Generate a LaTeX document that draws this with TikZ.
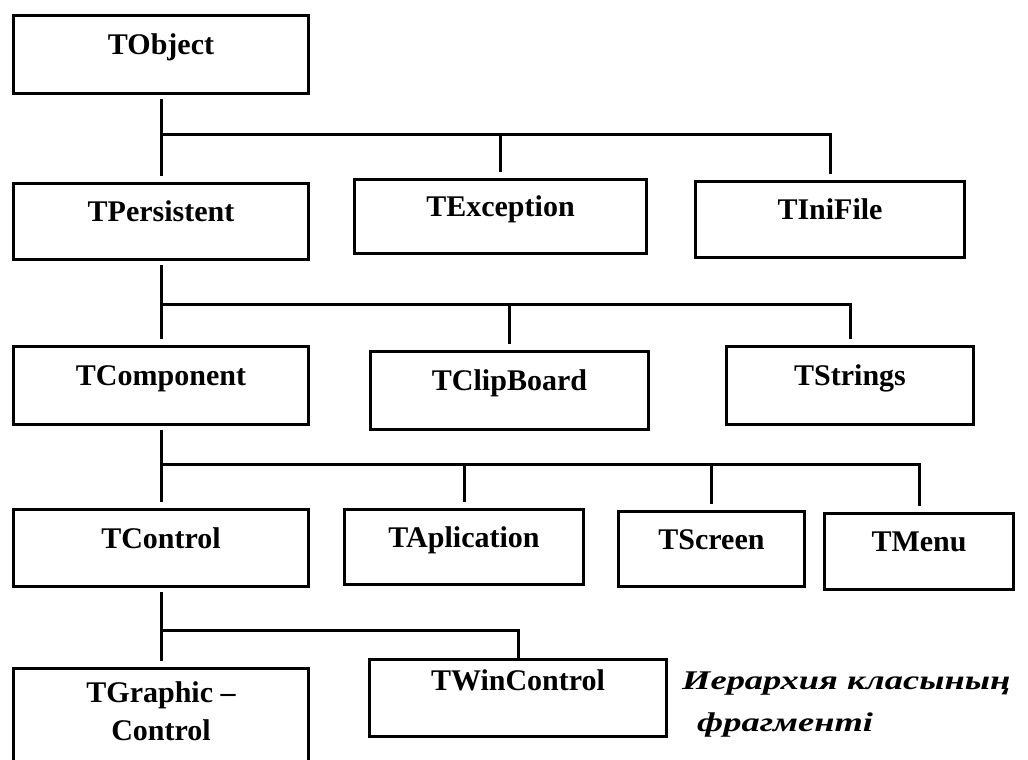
\documentclass[tikz,border=0pt]{standalone}
\usepackage{fontspec}
\setmainfont{Liberation Serif}
\newfontfamily\notefont[FakeStretch=1.35]{Liberation Serif}
\begin{document}
\begin{tikzpicture}[x=1pt,y=-1pt,
  box/.style={draw, line width=3pt, inner sep=0pt, anchor=north west,
    font=\fontsize{30}{38}\selectfont\bfseries,
    text height=22pt, text depth=22pt},
  trunk/.style={line width=3pt, shorten <=4pt, shorten >=6pt},
  drop/.style={line width=3pt, shorten >=6pt},
  note/.style={anchor=base west, inner sep=0pt,
    font=\notefont\fontsize{27}{32}\selectfont\bfseries\itshape}]
\useasboundingbox (0,0) rectangle (1028,760);
\clip (0,0) rectangle (1028,760);

% class boxes
\node[box, minimum width=295pt, minimum height=78pt] (obj)  at (12,14)   {TObject};
\node[box, minimum width=295pt, minimum height=76pt] (pers) at (12,182)  {TPersistent};
\node[box, minimum width=292pt, minimum height=74pt] (exc)  at (353,178) {TException};
\node[box, minimum width=269pt, minimum height=76pt] (ini)  at (694,180) {TIniFile};
\node[box, minimum width=295pt, minimum height=78pt] (comp) at (12,345)  {TComponent};
\node[box, minimum width=278pt, minimum height=78pt] (clip) at (369,350) {TClipBoard};
\node[box, minimum width=247pt, minimum height=78pt] (str)  at (725,345) {TStrings};
\node[box, minimum width=295pt, minimum height=77pt] (ctrl) at (12,508)  {TControl};
\node[box, minimum width=239pt, minimum height=75pt] (app)  at (343,508) {TAplication};
\node[box, minimum width=186pt, minimum height=75pt] (scr)  at (617,510) {TScreen};
\node[box, minimum width=189pt, minimum height=76pt] (menu) at (823,512) {TMenu};
\node[box, minimum width=295pt, minimum height=133pt, text height=20pt, text depth=85pt]
  (gfx) at (12,667) {\begin{tabular}[t]{@{}c@{}}TGraphic –\\Control\end{tabular}};
\node[box, minimum width=297pt, minimum height=77pt, text height=20pt, text depth=35pt]
  (win) at (368,658) {TWinControl};

% caption
\node[note] (cap1) at (682,689) {Иерархия класының};
\node[note] (cap2) at (697,731) {фрагменті};

% bus lines
\coordinate (b1) at (0,134);
\coordinate (b2) at (0,304);
\coordinate (b3) at (0,464);
\coordinate (b4) at (0,630);

\draw[trunk] (obj.south) -- (obj.south |- b1) -| (ini.north);
\draw[drop] (pers.north |- b1) -- (pers.north);
\draw[drop] (exc.north |- b1) -- (exc.north);

\draw[trunk] (pers.south) -- (pers.south |- b2) -| (str.north);
\draw[drop] (comp.north |- b2) -- (comp.north);
\draw[drop] (clip.north |- b2) -- (clip.north);

\draw[trunk] (comp.south) -- (comp.south |- b3) -| (menu.north);
\draw[drop] (ctrl.north |- b3) -- (ctrl.north);
\draw[drop] (app.north |- b3) -- (app.north);
\draw[drop] (scr.north |- b3) -- (scr.north);

\draw[trunk, shorten >=0pt] (ctrl.south) -- (ctrl.south |- b4) -| (win.north);
\draw[drop] (gfx.north |- b4) -- (gfx.north);
\end{tikzpicture}
\end{document}
